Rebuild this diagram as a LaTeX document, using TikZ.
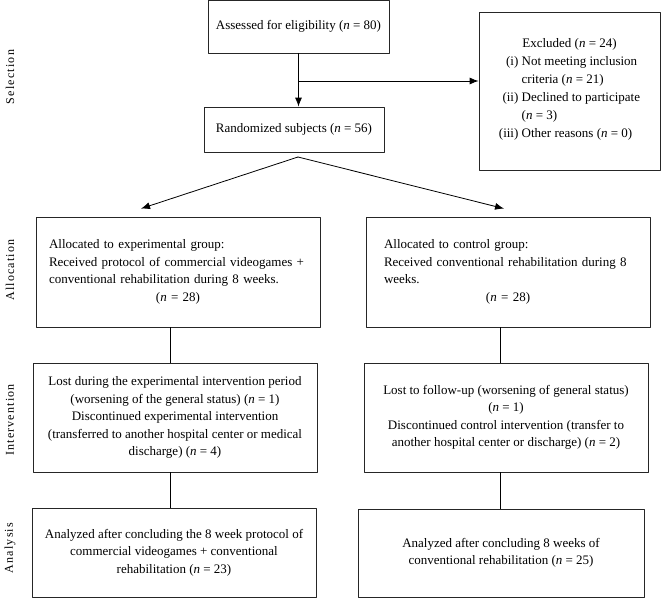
\documentclass[tikz,border=0pt]{standalone}
\usepackage{fontspec}
\setmainfont{Liberation Serif}
\usetikzlibrary{arrows.meta}
\newcommand{\nval}[1]{(\textit{n} = #1)}
\begin{document}
\begin{tikzpicture}[x=1pt,y=-1pt,font=\fontsize{13}{17.5}\selectfont,line join=round,line cap=round,
	>={Latex[length=9pt,width=7pt]},
	box/.style={draw=black!85,line width=0.8pt,inner sep=4pt,align=center},
	phase/.style={rotate=90,font=\fontsize{12}{13}\selectfont\addfontfeature{LetterSpace=10}}]
	\useasboundingbox (0,0) rectangle (661,610);
	% selection
	\node[box,minimum width=181,minimum height=53] (assess) at (298.5,26.5) {Assessed for eligibility \nval{80}};
	\node[box,minimum width=180,minimum height=45] (rand) at (294,129.5) {Randomized subjects \nval{56}};
	\node[box,minimum width=181,minimum height=158] (excl) at (569.5,91) {Excluded \nval{24}\\[1pt]
		\renewcommand{\arraystretch}{1.04}%
		\begin{tabular}{@{}r@{\ }l@{}}
			(i) & Not meeting inclusion\\
			& criteria \nval{21}\\
			(ii) & Declined to participate\\
			& \nval{3}\\
			(iii) & Other reasons \nval{0}
	\end{tabular}};
	% allocation
	\node[box,align=left,text width=258,minimum width=284,minimum height=110] (allocL) at (178,272) {Allocated to experimental group:\\
		Received protocol of commercial videogames +\\
		conventional rehabilitation during 8 weeks.\\
		\makebox[258pt]{\nval{28}}};
	\node[box,align=left,text width=248,minimum width=284,minimum height=110] (allocR) at (508,272) {Allocated to control group:\\
		Received conventional rehabilitation during 8\\
		weeks.\\
		\makebox[248pt]{\nval{28}}};
	% intervention
	\node[box,minimum width=284,minimum height=109] (intL) at (175,417.5) {Lost during the experimental intervention period\\
		(worsening of the general status) \nval{1}\\
		Discontinued experimental intervention\\
		(transferred to another hospital center or medical\\
		discharge) \nval{4}};
	\node[box,minimum width=284,minimum height=109] (intR) at (506,417.5) {Lost to follow-up (worsening of general status)\\
		\nval{1}\\
		Discontinued control intervention (transfer to\\
		another hospital center or discharge) \nval{2}};
	% analysis
	\node[box,minimum width=284,minimum height=89] (anaL) at (174,552.5) {Analyzed after concluding the 8 week protocol of\\
		commercial videogames + conventional\\
		rehabilitation \nval{23}};
	\node[box,minimum width=286,minimum height=88] (anaR) at (501,553) {Analyzed after concluding 8 weeks of\\
		conventional rehabilitation \nval{25}};
	% phase labels
	\node[phase] (lblSel) at (10,77) {Selection};
	\node[phase] (lblAlloc) at (10,270) {Allocation};
	\node[phase] (lblInt) at (10,420) {Intervention};
	\node[phase] (lblAna) at (10,548) {Analysis};
	% connectors
	\coordinate (branch) at (298.5,81);
	\coordinate (split) at (298,157);
	\draw[line width=0.8pt,->] (assess.south) -- (assess.south |- rand.north);
	\draw[line width=0.8pt,->] (branch) -- (branch -| excl.west);
	\draw[line width=0.8pt,->] (split) -- ([xshift=-37pt,yshift=8pt]allocL.north);
	\draw[line width=0.8pt,->] (split) -- ([xshift=-4pt,yshift=8pt]allocR.north);
	\draw[line width=0.8pt] ([xshift=-8pt]allocL.south) -- ([xshift=-8pt]allocL.south |- intL.north);
	\draw[line width=0.8pt] ([xshift=-8pt]allocR.south) -- ([xshift=-8pt]allocR.south |- intR.north);
	\draw[line width=0.8pt] ([xshift=-5pt]intL.south) -- ([xshift=-5pt]intL.south |- anaL.north);
	\draw[line width=0.8pt] ([xshift=-6pt]intR.south) -- ([xshift=-6pt]intR.south |- anaR.north);
\end{tikzpicture}
\end{document}
